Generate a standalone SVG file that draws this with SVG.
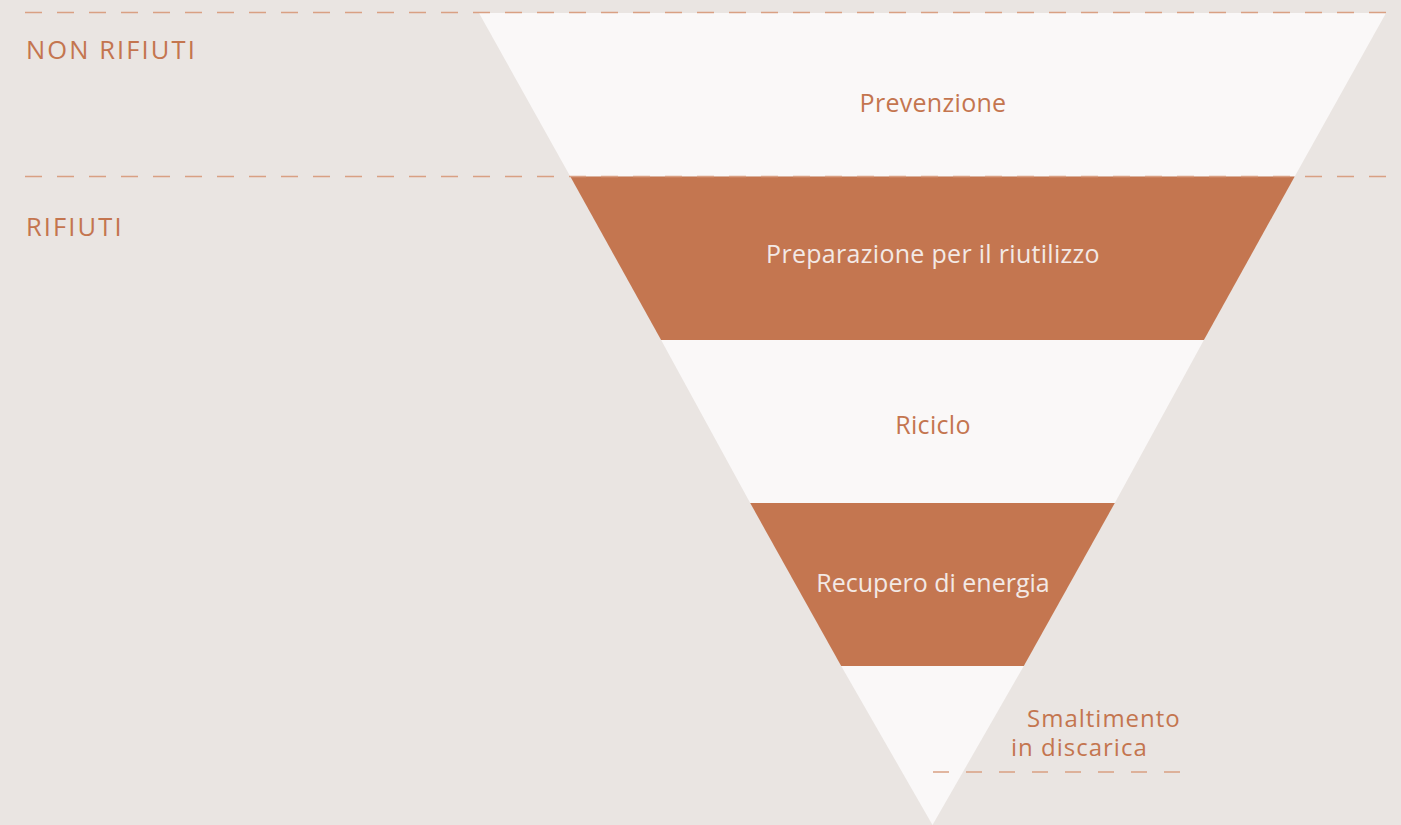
<svg xmlns="http://www.w3.org/2000/svg" width="1401" height="825" viewBox="0 0 1401 825">
<style>
.bg{fill:#EAE5E2}
.w{fill:#FAF8F8}
.o{fill:#C47650}
.lbl{font-family:"Open Sans","Noto Sans",sans-serif;font-size:25px;letter-spacing:0.3px;text-anchor:middle}
.lo{fill:#C4754F}
.lw{fill:#F3E9E5}
.side{font-family:"Open Sans","Noto Sans",sans-serif;font-size:25.5px;letter-spacing:2.1px;fill:#C4754F}
.sm{font-family:"Open Sans","Noto Sans",sans-serif;font-size:24px;letter-spacing:1px;fill:#C4754F}
.dash{stroke:#D9A083;stroke-width:1.5;stroke-dasharray:17 15;fill:none}
</style>
<rect class="bg" x="0" y="0" width="1401" height="825"/>
<g id="prevenzione">
<polygon class="w" points="479,13 1386,13 1294.7,176.5 570.3,176.5"/>
<text class="lbl lo" x="933" y="112">Prevenzione</text>
</g>
<g id="preparazione">
<polygon class="o" points="570.3,176.5 1294.7,176.5 1203.9,340 661.1,340"/>
<text class="lbl lw" x="933" y="263">Preparazione per il riutilizzo</text>
</g>
<g id="riciclo">
<polygon class="w" points="661.1,340 1203.9,340 1114.8,503 750.2,503"/>
<text class="lbl lo" x="933" y="434">Riciclo</text>
</g>
<g id="recupero">
<polygon class="o" points="750.2,503 1114.8,503 1023.8,666 841.2,666"/>
<text class="lbl lw" x="933" y="592" style="letter-spacing:0">Recupero di energia</text>
</g>
<g id="smaltimento">
<polygon class="w" points="841.2,666 1023.8,666 932.5,825"/>
<text class="sm" x="1027" y="727">Smaltimento</text>
<text class="sm" x="1011" y="756">in discarica</text>
</g>
<g id="labels">
<text class="side" x="26" y="59">NON RIFIUTI</text>
<text class="side" x="26" y="236">RIFIUTI</text>
</g>
<g id="connectors">
<line class="dash" x1="25" y1="12.5" x2="1386" y2="12.5"/>
<line class="dash" x1="25" y1="176.5" x2="1386" y2="176.5"/>
<line class="dash" style="stroke-dasharray:16 17" x1="933" y1="772" x2="1181" y2="772"/>
</g>
</svg>
